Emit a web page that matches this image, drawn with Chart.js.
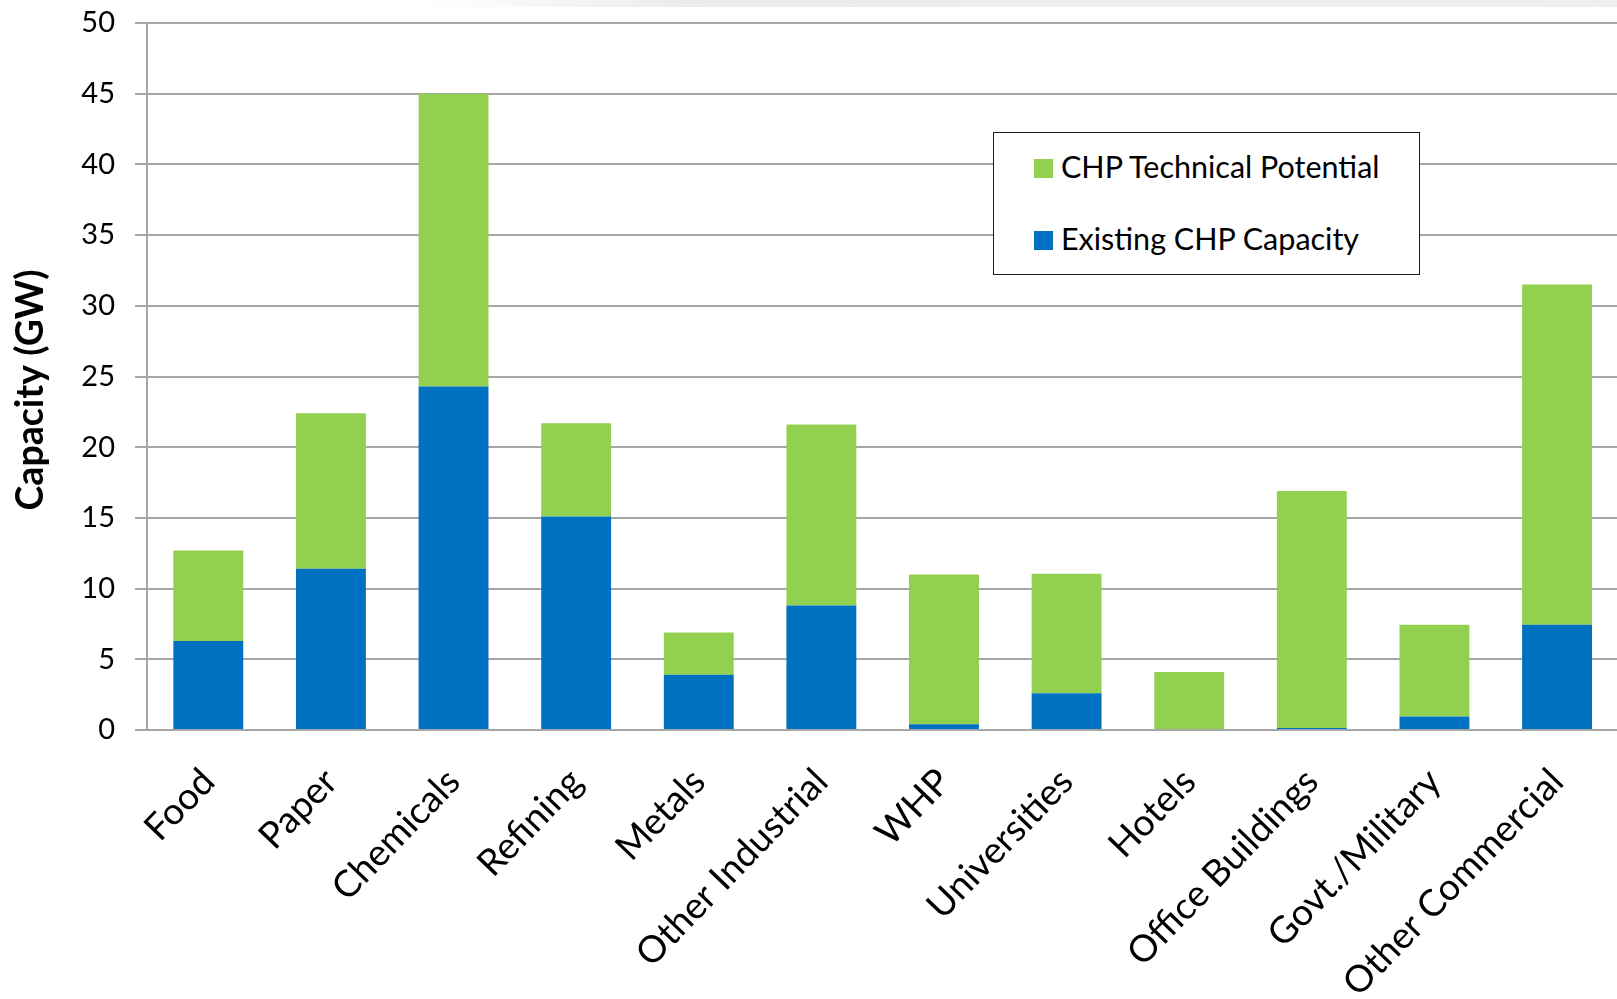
<!DOCTYPE html>
<html>
<head>
<meta charset="utf-8">
<script src="https://cdn.jsdelivr.net/npm/chart.js@4/dist/chart.umd.min.js"></script>
<style>
  html, body { margin: 0; padding: 0; background: #fff; overflow: hidden; width: 1617px; height: 999px; }
  #wrap { position: absolute; left: 0; top: 0; width: 1619px; height: 999px; }
  #topband { position: absolute; left: 420px; top: 0; width: 1197px; height: 7px;
             background: linear-gradient(to right, rgba(235,235,235,0) 0px, #ececec 260px, #efefef 100%); }
  #legend { position: absolute; left: 993px; top: 132px; width: 427px; height: 143px;
            border: 1.5px solid #1e1e1e; background: #fff; box-sizing: border-box;
            font-family: Lato, sans-serif; font-size: 30.5px; color: #000; }
  #legend .sw { position: absolute; width: 19px; height: 19px; }
  #legend .tx { position: absolute; line-height: 30px; white-space: nowrap; }
</style>
</head>
<body>
<div id="topband"></div>
<div id="wrap"><canvas id="c" width="1619" height="999"></canvas></div>
<div id="legend"></div>
<script>
// CHP capacity by application sector (GW)
const categories = ['Food', 'Paper', 'Chemicals', 'Refining', 'Metals', 'Other Industrial',
                    'WHP', 'Universities', 'Hotels', 'Office Buildings', 'Govt./Military', 'Other Commercial'];
const existingCapacity   = [6.3, 11.4, 24.3, 15.1, 3.9, 8.8, 0.4, 2.6, 0.0, 0.15, 0.95, 7.45];
const technicalPotential = [6.4, 11.0, 20.7, 6.6, 3.0, 12.8, 10.6, 8.45, 4.1, 16.75, 6.5, 24.05];
const yTicks = [0, 5, 10, 15, 20, 25, 30, 35, 40, 45, 50];

const seriesNames  = ['Existing CHP Capacity', 'CHP Technical Potential'];
const seriesColors = ['#0070C0', '#92D050'];
const yAxisTitle = 'Capacity (GW)';

const FONT = 'Lato';
const gridGray = '#a6a6a6';

// Rotated y-axis title, centred beside the plot
const yTitlePlugin = {
  id: 'yTitle',
  afterDraw(chart) {
    const { ctx } = chart;
    ctx.save();
    ctx.font = 'bold 37.5px ' + FONT;
    ctx.fillStyle = '#000';
    ctx.textAlign = 'center';
    ctx.textBaseline = 'middle';
    ctx.translate(31, 390);
    ctx.rotate(-Math.PI / 2);
    ctx.fillText(yAxisTitle, 0, 0);
    ctx.restore();
  }
};

const chart = new Chart(document.getElementById('c'), {
  type: 'bar',
  data: {
    labels: categories,
    datasets: [
      { label: seriesNames[0], data: existingCapacity, backgroundColor: seriesColors[0],
        barPercentage: 0.57, categoryPercentage: 1.0 },
      { label: seriesNames[1], data: technicalPotential, backgroundColor: seriesColors[1],
        barPercentage: 0.57, categoryPercentage: 1.0 }
    ]
  },
  plugins: [yTitlePlugin],
  options: {
    responsive: false,
    animation: false,
    devicePixelRatio: 1,
    layout: { padding: { top: 23, left: 0, right: 0, bottom: 0 } },
    plugins: { legend: { display: false }, tooltip: { enabled: false } },
    scales: {
      x: {
        stacked: true,
        grid: { display: false, drawTicks: false },
        border: { display: true, color: gridGray, width: 2 },
        ticks: { minRotation: 46, maxRotation: 46, autoSkip: false, padding: 30,
                 color: '#000', font: { family: FONT, size: 37 } },
        afterFit(s) { s.height = 269; }
      },
      y: {
        stacked: true,
        min: yTicks[0],
        max: yTicks[yTicks.length - 1],
        afterBuildTicks(s) { s.ticks = yTicks.map(v => ({ value: v })); },
        ticks: { padding: 20, color: '#000', font: { family: FONT, size: 29 } },
        grid: { color: gridGray, lineWidth: 2, tickLength: 12, drawTicks: true },
        border: { display: true, color: gridGray, width: 2 },
        afterFit(s) { s.width = 147; s.paddingTop = 0; s.paddingBottom = 0; }
      }
    }
  }
});

// Legend box: potential listed first, then existing capacity
const legend = document.getElementById('legend');
const rows = [1, 0];
rows.forEach((idx, r) => {
  const sw = document.createElement('div');
  sw.className = 'sw';
  sw.style.background = seriesColors[idx];
  sw.style.left = '40px';
  sw.style.top = (26 + r * 72) + 'px';
  legend.appendChild(sw);
  const tx = document.createElement('div');
  tx.className = 'tx';
  tx.textContent = seriesNames[idx];
  tx.style.left = '67px';
  tx.style.top = (18 + r * 72) + 'px';
  legend.appendChild(tx);
});
</script>
</body>
</html>
